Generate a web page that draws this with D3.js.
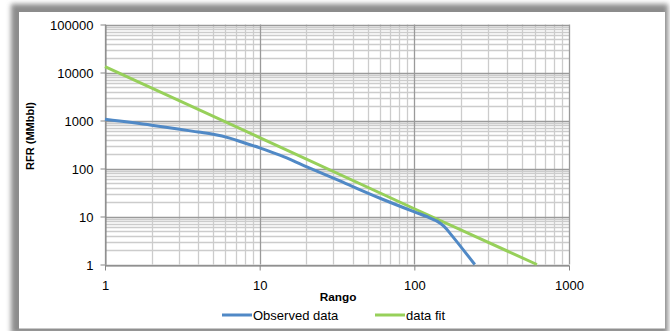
<!DOCTYPE html>
<html>
<head>
<meta charset="utf-8">
<script src="https://cdn.jsdelivr.net/npm/d3@7"></script>
<style>
  html, body { margin: 0; padding: 0; background: #fff; }
  svg { display: block; font-family: "Liberation Sans", Arial, sans-serif; }
</style>
</head>
<body>
<div id="chart"></div>
<script>
// Data
const obsRango = [1, 2, 4, 5, 6.4, 8, 10, 13.5, 20, 33, 60, 100, 120, 140, 155, 175, 246];
const obsRFR = [1060, 800, 575, 515, 430, 340, 270, 190, 110, 55, 24, 12.5, 10, 8, 6.3, 4, 1];
const fitRango = [1, 10, 100, 620];
const fitRFR = [13200, 440, 14.5, 1];
const xTicks = [1, 10, 100, 1000];
const yTicks = [1, 10, 100, 1000, 10000, 100000];
const seriesNames = ["Observed data", "data fit"];

const width = 670, height = 331;
const colors = ["#5089c6", "#97d05a"];

const svg = d3.select("#chart").append("svg")
  .attr("width", width)
  .attr("height", height);

// frame with shadow
const defs = svg.append("defs");
defs.append("filter").attr("id", "blur")
  .attr("x", "-5%").attr("y", "-5%").attr("width", "110%").attr("height", "110%")
  .append("feGaussianBlur").attr("stdDeviation", 2.5);

svg.append("rect")
  .attr("x", 11).attr("y", 4).attr("width", 657).attr("height", 330)
  .attr("fill", "#8c8c8c")
  .attr("filter", "url(#blur)");
svg.append("rect")
  .attr("x", 19).attr("y", 12).attr("width", 646).attr("height", 317)
  .attr("fill", "#fff");
svg.append("line")
  .attr("x1", 19).attr("x2", 665).attr("y1", 328.5).attr("y2", 328.5)
  .attr("stroke", "#c8c8c8");

const x = d3.scaleLog().domain([1, 1000]).range([105, 569]);
const y = d3.scaleLog().domain([1, 100000]).range([264.5, 24.5]);

// minor values 2..9 for each decade
function minors(lo, hi) {
  const out = [];
  for (let d = lo; d < hi; d *= 10) {
    for (let k = 2; k <= 9; k++) out.push(d * k);
  }
  return out;
}

const grid = svg.append("g");
grid.selectAll(".vminor").data(minors(1, 1000)).join("line")
  .attr("x1", d => Math.round(x(d)) + 0.5).attr("x2", d => Math.round(x(d)) + 0.5)
  .attr("y1", y(100000)).attr("y2", y(1))
  .attr("stroke", "#cccccc").attr("stroke-width", 1.3);
grid.selectAll(".hminor").data(minors(1, 100000)).join("line")
  .attr("x1", x(1)).attr("x2", x(1000))
  .attr("y1", d => Math.round(y(d)) + 0.5).attr("y2", d => Math.round(y(d)) + 0.5)
  .attr("stroke", "#cccccc").attr("stroke-width", 1.3);
grid.selectAll(".vmajor").data(xTicks).join("line")
  .attr("x1", d => Math.round(x(d)) + 0.5).attr("x2", d => Math.round(x(d)) + 0.5)
  .attr("y1", y(100000)).attr("y2", y(1))
  .attr("stroke", "#9a9a9a").attr("stroke-width", 1.3);
grid.selectAll(".hmajor").data(yTicks).join("line")
  .attr("x1", x(1)).attr("x2", x(1000))
  .attr("y1", d => Math.round(y(d)) + 0.5).attr("y2", d => Math.round(y(d)) + 0.5)
  .attr("stroke", "#9a9a9a").attr("stroke-width", 1.3);

// axes
const xAxis = svg.append("g")
  .attr("transform", `translate(0,${Math.round(y(1)) + 0.5})`)
  .call(d3.axisBottom(x).tickValues(xTicks).tickFormat(d3.format("d")).tickSize(5).tickSizeOuter(0));
const yAxis = svg.append("g")
  .attr("transform", `translate(${Math.round(x(1)) + 0.5},0)`)
  .call(d3.axisLeft(y).tickValues(yTicks).tickFormat(d3.format("d")).tickSize(5).tickSizeOuter(0));

[xAxis, yAxis].forEach(a => {
  a.select(".domain").attr("stroke", "#868686");
  a.selectAll(".tick line").attr("stroke", "#868686");
  a.selectAll(".tick text").attr("font-size", 13).attr("font-family", "Liberation Sans, Arial, sans-serif").attr("fill", "#000");
});
xAxis.selectAll(".tick text").attr("dy", null).attr("y", 24);
yAxis.selectAll(".tick text").attr("x", -12).attr("dy", "0.36em");

// axis titles
svg.append("text")
  .attr("x", 338).attr("y", 301)
  .attr("text-anchor", "middle")
  .attr("font-size", 11.8).attr("font-weight", "bold")
  .text("Rango");
svg.append("text")
  .attr("transform", "translate(34,136) rotate(-90)")
  .attr("text-anchor", "middle")
  .attr("font-size", 11).attr("font-weight", "bold")
  .text("RFR (MMbbl)");

// series
const lineObs = d3.line()
  .x((d, i) => x(obsRango[i]))
  .y(d => y(d))
  .curve(d3.curveCatmullRom.alpha(0.5));
const lineFit = d3.line()
  .x((d, i) => x(fitRango[i]))
  .y(d => y(d));

svg.append("path")
  .attr("d", lineFit(fitRFR))
  .attr("fill", "none").attr("stroke", colors[1]).attr("stroke-width", 3);
svg.append("path")
  .attr("d", lineObs(obsRFR))
  .attr("fill", "none").attr("stroke", colors[0]).attr("stroke-width", 3);

// legend
const legendX = [222, 375];
const legend = svg.append("g");
seriesNames.forEach((name, i) => {
  legend.append("line")
    .attr("x1", legendX[i]).attr("x2", legendX[i] + 30)
    .attr("y1", 315).attr("y2", 315)
    .attr("stroke", colors[i]).attr("stroke-width", 3);
  legend.append("text")
    .attr("x", legendX[i] + 31).attr("y", 319.5)
    .attr("font-size", 13)
    .text(name);
});
</script>
</body>
</html>
